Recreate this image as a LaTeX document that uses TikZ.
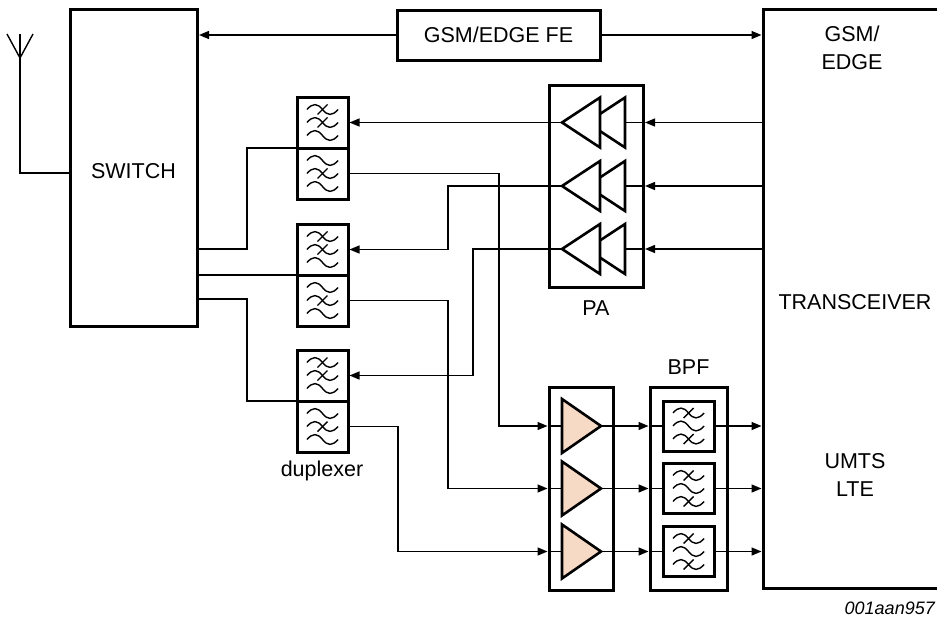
\documentclass[tikz,border=0pt]{standalone}
\usepackage{fontspec}
\setmainfont{Liberation Sans}
\usetikzlibrary{arrows.meta}
\definecolor{peach}{RGB}{247,218,198}
\newcommand{\filt}[4]{%
  \begin{scope}[shift={(#1.center)}]
    \foreach \yy/\cc in {-13/#2, 0/#3, 13/#4}{%
      \draw[fw] (-15.5,\yy) .. controls (-10,\yy-6.5) and (-5,\yy-6.5) .. (0,\yy) .. controls (5,\yy+6.5) and (10,\yy+6.5) .. (15.5,\yy);
      \ifnum\cc=1 \draw[fw] (-5,\yy+5) -- (5,\yy-5);\fi
    }
  \end{scope}}
\begin{document}
\begin{tikzpicture}[x=1pt,y=-1pt,
  box/.style={draw, line width=3pt, inner sep=0pt, outer sep=0pt},
  wire/.style={line width=1.4pt},
  arr/.style={wire, -{Triangle[length=10pt,width=8pt]}},
  tri/.style={draw, line width=2.6pt, line join=miter},
  fw/.style={line width=1.4pt},
  lbl/.style={font=\fontsize{21.5}{28}\selectfont, align=center, inner sep=0pt},
  half/.style={box, minimum width=51pt, minimum height=51pt},
  fbox/.style={box, minimum width=51pt, minimum height=50pt}]
\useasboundingbox (0,0) rectangle (937,624);

% main blocks
\node[box, minimum width=127pt, minimum height=317pt] (sw) at (133.5,167.5) {};
\node[lbl] (swl) at (133.5,171) {SWITCH};
\node[box, lbl, minimum width=203pt, minimum height=50pt] (fe) at (498.5,35) {GSM/EDGE FE};
\node[box, minimum width=184pt, minimum height=579pt] (trx) at (855,298.5) {};
\node[lbl] (trx1) at (852,47.5) {GSM/\\EDGE};
\node[lbl] (trx2) at (855,302) {TRANSCEIVER};
\node[lbl] (trx3) at (855,475) {UMTS\\LTE};

% duplexers
\node[half] (d1t) at (322.5,122.5) {};
\node[half] (d1b) at (322.5,173.5) {};
\node[half] (d2t) at (322.5,249.5) {};
\node[half] (d2b) at (322.5,300.5) {};
\node[half] (d3t) at (322.5,375.5) {};
\node[half] (d3b) at (322.5,426.5) {};
\node[lbl] (dupl) at (322,471) {duplexer};
\filt{d1t}{1}{1}{0}\filt{d1b}{0}{1}{0}
\filt{d2t}{1}{1}{0}\filt{d2b}{0}{1}{0}
\filt{d3t}{1}{1}{0}\filt{d3b}{0}{1}{0}

% PA
\node[box, minimum width=94pt, minimum height=202pt] (pa) at (596,186) {};
\node[lbl] (pal) at (596,308) {PA};
\foreach \r/\n in {122.5/1, 186/2, 249/3}{
  \draw[tri] (587,\r) -- (625,\r-25) -- (625,\r+25) -- cycle;
  \draw[tri, fill=white] (562,\r) -- (600,\r-25) -- (600,\r+25) -- cycle;
  \coordinate (pa\n) at (562,\r);
  \coordinate (pi\n) at (625,\r);
  \coordinate (pk\n) at (645,\r);
  \draw[arr] (trx.west |- pi\n) -- (pk\n);
  \draw[wire] (pk\n) -- (pi\n);
}

% LNA and BPF
\node[box, minimum width=64pt, minimum height=203pt] (lna) at (581,488.5) {};
\node[box, minimum width=77pt, minimum height=203pt] (bpf) at (688.5,488.5) {};
\node[lbl] (bpfl) at (688.5,367) {BPF};
\node[fbox] (f1) at (688.5,426) {};
\node[fbox] (f2) at (688.5,488.5) {};
\node[fbox] (f3) at (688.5,551.5) {};
\filt{f1}{1}{0}{1}\filt{f2}{1}{0}{1}\filt{f3}{1}{0}{1}
\foreach \r/\n in {426/1, 488.5/2, 551.5/3}{
  \draw[tri, fill=peach] (562,\r-27) -- (601,\r) -- (562,\r+27) -- cycle;
  \coordinate (li\n) at (562,\r);
  \coordinate (lo\n) at (601,\r);
  \draw[arr, shorten >=1.5pt] (lo\n) -- (bpf.west |- lo\n);
  \draw[wire] (bpf.west |- lo\n) -- (f\n.west);
  \draw[arr, shorten >=1.5pt] (f\n.east) -- (trx.west |- f\n.east);
}

% antenna
\coordinate (ant) at (20,34);
\draw[wire] (ant) -- (20,173) -- (sw.west |- 0,173);
\draw[wire] (7,34) -- (20,58) -- (33,34);

% FE arrows
\draw[arr, shorten >=2pt] (fe.west) -- (sw.east |- fe.west);
\draw[arr, shorten >=1.5pt] (fe.east) -- (trx.west |- fe.east);

% switch to duplexers
\draw[wire] (sw.east |- 0,249) -- (247,249) -- (247,148) -- (d1t.south west);
\draw[wire] (sw.east |- d2t.south west) -- (d2t.south west);
\draw[wire] (sw.east |- 0,299) -- (247,299) -- (247,401) -- (d3t.south west);

% PA outputs to duplexers
\draw[arr, shorten >=1.5pt] (pa1) -- (d1t.east);
\draw[arr, shorten >=1.5pt] (pa2) -- (448,186) -- (448,249.5) -- (d2t.east);
\draw[arr, shorten >=1.5pt] (pa3) -- (473,249) -- (473,375.5) -- (d3t.east);

% duplexer Rx to LNA
\draw[arr, shorten >=1.5pt] (d1b.east) -- (499,173.5) -- (499,426) -- (lna.west |- li1);
\draw[arr, shorten >=1.5pt] (d2b.east) -- (448,300.5) -- (448,488.5) -- (lna.west |- li2);
\draw[arr, shorten >=1.5pt] (d3b.east) -- (398,426.5) -- (398,551.5) -- (lna.west |- li3);
\foreach \n in {1,2,3}{ \draw[wire] (lna.west |- li\n) -- (li\n); }

\node[font=\fontsize{18}{20}\selectfont\itshape, anchor=east, inner sep=0pt] (cap) at (935,608) {001aan957};
\end{tikzpicture}
\end{document}
